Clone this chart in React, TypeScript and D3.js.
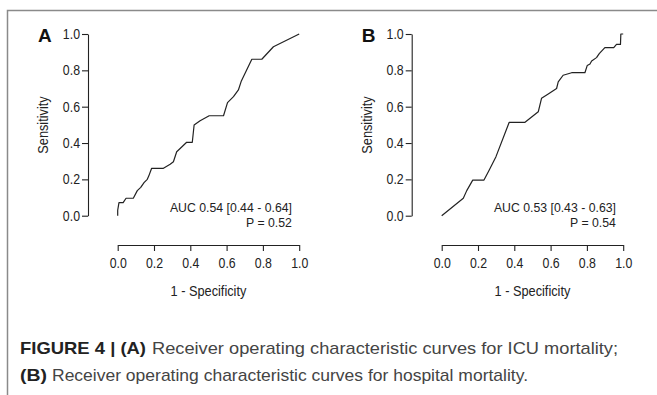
import { useEffect, useRef } from "react";
import * as d3 from "d3";

// ROC curve points (1 - specificity, sensitivity)
const icuFpr = [0, 0, 0.007, 0.03, 0.046, 0.086, 0.108, 0.127, 0.145, 0.163, 0.171, 0.187, 0.252, 0.289, 0.307, 0.325, 0.344, 0.38, 0.411, 0.421, 0.454, 0.504, 0.583, 0.605, 0.638, 0.665, 0.68, 0.739, 0.794, 0.858, 1.0];
const icuTpr = [0, 0.03, 0.072, 0.072, 0.096, 0.096, 0.138, 0.156, 0.182, 0.2, 0.218, 0.261, 0.261, 0.283, 0.297, 0.352, 0.37, 0.404, 0.404, 0.499, 0.523, 0.55, 0.55, 0.622, 0.655, 0.692, 0.738, 0.861, 0.861, 0.93, 1.0];

const hospFpr = [0, 0.119, 0.138, 0.171, 0.233, 0.262, 0.299, 0.372, 0.459, 0.532, 0.55, 0.587, 0.633, 0.642, 0.669, 0.716, 0.789, 0.802, 0.817, 0.826, 0.853, 0.868, 0.899, 0.948, 0.963, 0.985, 0.987, 1.0];
const hospTpr = [0, 0.096, 0.138, 0.196, 0.196, 0.251, 0.325, 0.514, 0.514, 0.572, 0.646, 0.67, 0.7, 0.736, 0.773, 0.787, 0.787, 0.827, 0.835, 0.851, 0.87, 0.892, 0.925, 0.925, 0.943, 0.943, 1.0, 1.0];

const tickValues = [0, 0.2, 0.4, 0.6, 0.8, 1.0];
const panelLetters = ["A", "B"];
const aucLabels = ["AUC 0.54 [0.44 - 0.64]", "AUC 0.53 [0.43 - 0.63]"];
const pLabels = ["P = 0.52", "P = 0.54"];

const W = 657;
const H = 395;
const FONT = "'Liberation Sans', Arial, sans-serif";

// the figure uses a narrow Helvetica, squeeze the text to match
function condense(sel: d3.Selection<any, any, any, any>, k = 0.88) {
    sel.each(function () {
        const t = this as SVGTextElement;
        const w = t.getComputedTextLength();
        t.setAttribute("textLength", String(w * k));
        t.setAttribute("lengthAdjust", "spacingAndGlyphs");
    });
}

export default function App() {
    const ref = useRef<SVGSVGElement | null>(null);

    useEffect(() => {
        const svg = d3.select(ref.current);
        svg.selectAll("*").remove();

        // frame of the figure box
        svg.append("path")
            .attr("d", `M7.5,${H} V10.5 H${W}`)
            .attr("fill", "none")
            .attr("stroke", "#8a8a8a")
            .attr("stroke-width", 1.5);

        const panels = [
            { fpr: icuFpr, tpr: icuTpr, x0: 117.7, yAxisX: 88 },
            { fpr: hospFpr, tpr: hospTpr, x0: 441.7, yAxisX: 411.7 },
        ];

        panels.forEach((p, i) => {
            const x = d3.scaleLinear().domain([0, 1]).range([p.x0, p.x0 + 181.5]);
            const y = d3.scaleLinear().domain([0, 1]).range([215.7, 34]);

            const g = svg.append("g").style("font-family", FONT);

            const yAxis = g.append("g")
                .attr("transform", `translate(${p.yAxisX},0)`)
                .call(d3.axisLeft(y).tickValues(tickValues).tickFormat(d3.format(".1f")).tickSize(6).tickSizeOuter(0).tickPadding(2));

            const xAxis = g.append("g")
                .attr("transform", `translate(0,245)`)
                .call(d3.axisBottom(x).tickValues(tickValues).tickFormat(d3.format(".1f")).tickSize(6).tickSizeOuter(0).tickPadding(7));

            [yAxis, xAxis].forEach((a) => {
                a.attr("font-size", null).attr("font-family", null);
                a.selectAll("path, line").attr("stroke", "#222").attr("stroke-width", 1.1);
                a.selectAll("text").attr("fill", "#222").style("font-size", "14px").style("font-family", FONT);
                condense(a.selectAll("text"));
            });

            const line = d3.line<number>()
                .x((_, k) => x(p.fpr[k]))
                .y((d) => y(d));

            g.append("path")
                .attr("d", line(p.tpr) as string)
                .attr("fill", "none")
                .attr("stroke", "#222")
                .attr("stroke-width", 1.2)
                .attr("stroke-linejoin", "round");

            g.append("text")
                .attr("x", p.yAxisX - 50)
                .attr("y", 41.7)
                .attr("font-size", 19)
                .attr("font-weight", "bold")
                .attr("fill", "#111")
                .text(panelLetters[i]);

            const ylab = g.append("text")
                .attr("transform", `translate(${p.yAxisX - 40},125) rotate(-90)`)
                .attr("text-anchor", "middle")
                .attr("font-size", 14.5)
                .attr("fill", "#222")
                .text("Sensitivity");

            const xlab = g.append("text")
                .attr("x", (x(0) + x(1)) / 2)
                .attr("y", 295.5)
                .attr("text-anchor", "middle")
                .attr("font-size", 14.5)
                .attr("fill", "#222")
                .text("1 - Specificity");

            const auc = g.append("text")
                .attr("x", x(0.96))
                .attr("y", 211.5)
                .attr("text-anchor", "end")
                .attr("font-size", 13.2)
                .attr("fill", "#222")
                .text(aucLabels[i]);

            const pv = g.append("text")
                .attr("x", x(0.96))
                .attr("y", 226.5)
                .attr("text-anchor", "end")
                .attr("font-size", 13.2)
                .attr("fill", "#222")
                .text(pLabels[i]);

            [ylab, xlab].forEach((t) => condense(t));
            [auc, pv].forEach((t) => condense(t, 0.93));
        });

        // caption
        const cap = svg.append("g").style("font-family", FONT).attr("font-size", 17);
        cap.append("text").attr("x", 20).attr("y", 354).attr("font-weight", "bold").attr("fill", "#222")
            .attr("textLength", 126).attr("lengthAdjust", "spacingAndGlyphs").text("FIGURE 4 | (A)");
        cap.append("text").attr("x", 152).attr("y", 354).attr("fill", "#444")
            .attr("textLength", 466).attr("lengthAdjust", "spacingAndGlyphs").text("Receiver operating characteristic curves for ICU mortality;");
        cap.append("text").attr("x", 20).attr("y", 381).attr("font-weight", "bold").attr("fill", "#222")
            .attr("textLength", 27).attr("lengthAdjust", "spacingAndGlyphs").text("(B)");
        cap.append("text").attr("x", 52).attr("y", 381).attr("fill", "#444")
            .attr("textLength", 476).attr("lengthAdjust", "spacingAndGlyphs").text("Receiver operating characteristic curves for hospital mortality.");
    }, []);

    return (
        <svg ref={ref} width={W} height={H} style={{ position: "absolute", left: 0, top: 0, background: "#fff" }}></svg>
    );
}
